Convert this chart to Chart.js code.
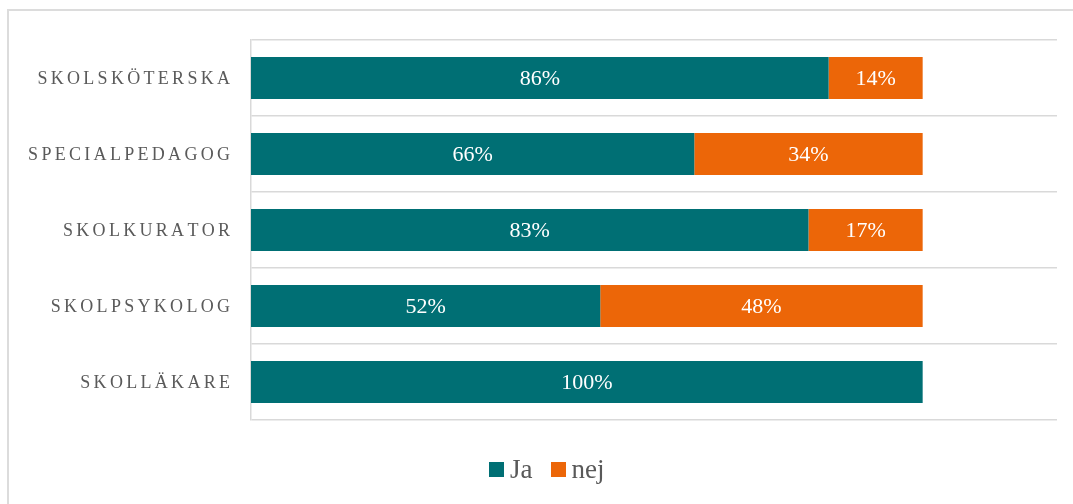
<!DOCTYPE html>
<html lang="sv">
<head>
<meta charset="utf-8">
<title>Tillgång till elevhälsa</title>
<script src="https://cdn.jsdelivr.net/npm/chart.js@4/dist/chart.umd.min.js"></script>
<style>
  html, body { margin: 0; padding: 0; background: #fff; }
  #wrap { position: relative; width: 1073px; height: 504px; overflow: hidden; }
  #frame {
    position: absolute; left: 7px; top: 9px; width: 1100px; height: 540px;
    border: 2px solid #dcdcdc; box-sizing: border-box;
  }
  #chart { position: absolute; left: 0; top: 0; }
  #legend {
    position: absolute; left: 489px; top: 454px; display: flex; align-items: center;
    font-family: "Liberation Serif", "Times New Roman", serif; font-size: 27px; color: #595959;
  }
  .leg-item { display: flex; align-items: center; margin-right: 18px; }
  .leg-box { width: 15px; height: 15px; margin-right: 6px; }
</style>
</head>
<body>
<div id="wrap">
  <div id="frame"></div>
  <canvas id="chart" width="1073" height="504"></canvas>
  <div id="legend"></div>
</div>
<script>
// ---------- Data ----------
const categories = ["SKOLSKÖTERSKA", "SPECIALPEDAGOG", "SKOLKURATOR", "SKOLPSYKOLOG", "SKOLLÄKARE"];
const jaValues = [86, 66, 83, 52, 100];
const nejValues = [14, 34, 17, 48, 0];
const seriesNames = ["Ja", "nej"];
const seriesColors = ["#006F74", "#EC6608"];

const SERIF = '"Liberation Serif", "Times New Roman", serif';

// ---------- Plugins ----------
// category labels with wide letter spacing, drawn char by char
const spacedLabels = {
  id: "spacedLabels",
  afterDraw(chart) {
    const { ctx, scales: { y } } = chart;
    const spacing = 3.3;
    const right = 230;
    ctx.save();
    ctx.font = "18px " + SERIF;
    ctx.fillStyle = "#5a5a5a";
    ctx.textBaseline = "middle";
    ctx.textAlign = "left";
    categories.forEach((label, i) => {
      const chars = Array.from(label);
      const widths = chars.map(c => ctx.measureText(c).width);
      const total = widths.reduce((a, b) => a + b, 0) + spacing * (chars.length - 1);
      let x = right - total;
      const yPos = y.getPixelForValue(i) + 1;
      chars.forEach((c, k) => {
        ctx.fillText(c, x, yPos);
        x += widths[k] + spacing;
      });
    });
    ctx.restore();
  }
};

// percentage inside each bar segment
const barValues = {
  id: "barValues",
  afterDatasetsDraw(chart) {
    const { ctx } = chart;
    ctx.save();
    ctx.font = "22px " + SERIF;
    ctx.fillStyle = "#ffffff";
    ctx.textAlign = "center";
    ctx.textBaseline = "middle";
    chart.data.datasets.forEach((ds, di) => {
      chart.getDatasetMeta(di).data.forEach((bar, i) => {
        const v = ds.data[i];
        if (!v) return;
        const cx = (bar.x + bar.base) / 2;
        ctx.fillText(v + "%", cx, bar.y + 1);
      });
    });
    ctx.restore();
  }
};

// ---------- Chart ----------
const chart = new Chart(document.getElementById("chart"), {
  type: "bar",
  data: {
    labels: categories,
    datasets: [
      { label: seriesNames[0], data: jaValues, backgroundColor: seriesColors[0] },
      { label: seriesNames[1], data: nejValues, backgroundColor: seriesColors[1] }
    ]
  },
  options: {
    indexAxis: "y",
    responsive: false,
    animation: false,
    datasets: { bar: { barPercentage: 0.553, categoryPercentage: 1, borderWidth: 0 } },
    layout: { padding: { left: 251, top: 40, right: 16, bottom: 84 } },
    plugins: { legend: { display: false }, tooltip: { enabled: false } },
    scales: {
      x: { stacked: true, min: 0, max: 120, display: false },
      y: {
        stacked: true,
        afterFit: s => { s.width = 0; },
        ticks: { display: false },
        grid: { color: "#d9d9d9", lineWidth: 1.5, drawTicks: false, offset: true },
        border: { display: true, color: "#d9d9d9", width: 1.5 }
      }
    }
  },
  plugins: [spacedLabels, barValues]
});

// ---------- Legend ----------
const legendEl = document.getElementById("legend");
chart.data.datasets.forEach(ds => {
  const item = document.createElement("div");
  item.className = "leg-item";
  item.innerHTML = `<span class="leg-box" style="background:${ds.backgroundColor}"></span><span>${ds.label}</span>`;
  legendEl.appendChild(item);
});
</script>
</body>
</html>
